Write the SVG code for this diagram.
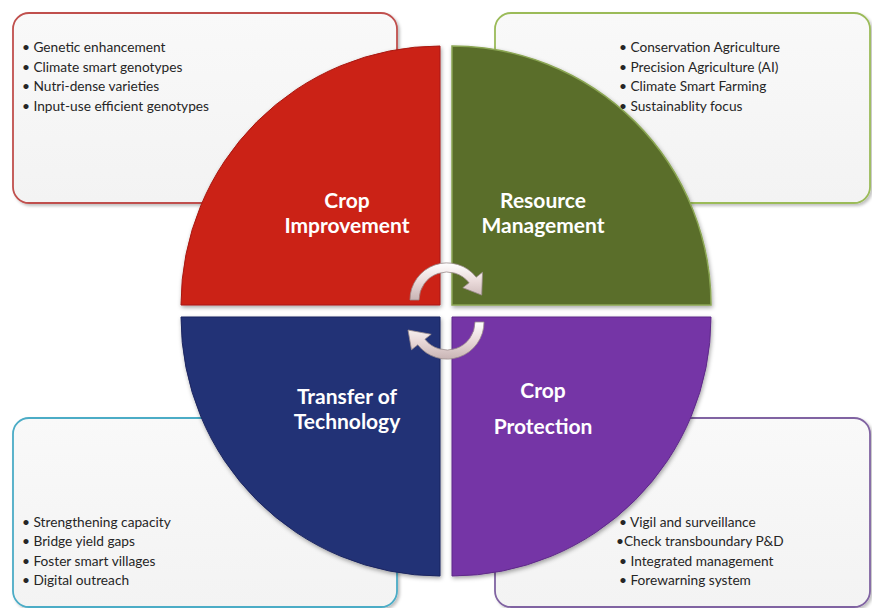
<svg xmlns="http://www.w3.org/2000/svg" width="872" height="608" viewBox="0 0 872 608">
  <style>
    .box { fill: url(#boxFill); stroke-width: 1.8; filter: url(#soft); }
    .item { font-family: Lato, "Liberation Sans", sans-serif; font-size: 13.7px; fill: #262626; }
    .head { font-family: Lato, "Liberation Sans", sans-serif; font-size: 21px; font-weight: bold; fill: #ffffff; text-anchor: middle; }
    .quad { filter: url(#drop); }
    .arrow { fill: url(#arrowFill); stroke: #9a8c8c; stroke-width: 0.8; }
  </style>
  <defs>
    <linearGradient id="boxFill" x1="0" y1="0" x2="0" y2="1">
      <stop offset="0" stop-color="#f9f9f9"/>
      <stop offset="1" stop-color="#f3f3f3"/>
    </linearGradient>
    <linearGradient id="arrowFill" x1="0" y1="0" x2="0" y2="1">
      <stop offset="0" stop-color="#ffffff"/>
      <stop offset="0.5" stop-color="#eadada"/>
      <stop offset="1" stop-color="#c8b4b4"/>
    </linearGradient>
    <filter id="soft" x="-5%" y="-5%" width="112%" height="115%">
      <feDropShadow dx="2" dy="2" stdDeviation="1.5" flood-color="#000" flood-opacity="0.25"/>
    </filter>
    <filter id="drop" x="-5%" y="-5%" width="115%" height="115%">
      <feDropShadow dx="1" dy="2" stdDeviation="2" flood-color="#000" flood-opacity="0.35"/>
    </filter>
  </defs>

  <!-- detail boxes behind the wheel -->
  <g id="box-crop-improvement">
    <rect class="box" x="13" y="13" width="384" height="190" rx="16" stroke="#c0504d"/>
    <text class="item" x="22" y="52">• Genetic enhancement</text>
    <text class="item" x="22" y="72">• Climate  smart genotypes</text>
    <text class="item" x="22" y="91">• Nutri-dense varieties</text>
    <text class="item" x="22" y="111">• Input-use efficient genotypes</text>
  </g>
  <g id="box-resource-management">
    <rect class="box" x="495" y="13" width="375" height="190" rx="16" stroke="#9bbb59"/>
    <text class="item" x="619" y="52">• Conservation Agriculture</text>
    <text class="item" x="619" y="72">• Precision Agriculture (AI)</text>
    <text class="item" x="619" y="91">• Climate  Smart Farming</text>
    <text class="item" x="619" y="111">• Sustainablity focus</text>
  </g>
  <g id="box-transfer-of-technology">
    <rect class="box" x="13" y="418" width="384" height="189" rx="16" stroke="#4bacc6"/>
    <text class="item" x="22" y="527">• Strengthening capacity</text>
    <text class="item" x="22" y="546">• Bridge yield gaps</text>
    <text class="item" x="22" y="566">• Foster smart villages</text>
    <text class="item" x="22" y="585">• Digital outreach</text>
  </g>
  <g id="box-crop-protection">
    <rect class="box" x="495" y="418" width="375" height="189" rx="16" stroke="#8064a2"/>
    <text class="item" x="619" y="527">• Vigil and surveillance</text>
    <text class="item" x="616" y="546">•Check transboundary P&amp;D</text>
    <text class="item" x="619" y="566">• Integrated management</text>
    <text class="item" x="619" y="585">• Forewarning system</text>
  </g>

  <!-- four quadrants of the wheel -->
  <g id="crop-improvement">
    <path class="quad" d="M440,305 L181,305 A259,259 0 0 1 440,46 Z" fill="#cb2117" stroke="#a81a12" stroke-width="1"/>
    <text class="head" x="347" y="208">Crop</text>
    <text class="head" x="347" y="233">Improvement</text>
  </g>
  <g id="resource-management">
    <path class="quad" d="M452,305 L452,46 A259,259 0 0 1 711,305 Z" fill="#5a6e2c" stroke="#8aa552" stroke-width="1.5"/>
    <text class="head" x="543" y="208">Resource</text>
    <text class="head" x="543" y="233">Management</text>
  </g>
  <g id="transfer-of-technology">
    <path class="quad" d="M440,317 L440,576 A259,259 0 0 1 181,317 Z" fill="#243276" stroke="#1b2660" stroke-width="1"/>
    <text class="head" x="347" y="404">Transfer of</text>
    <text class="head" x="347" y="429">Technology</text>
  </g>
  <g id="crop-protection">
    <path class="quad" d="M452,317 L711,317 A259,259 0 0 1 452,576 Z" fill="#7535a6" stroke="#5e2a88" stroke-width="1"/>
    <text class="head" x="543" y="398">Crop</text>
    <text class="head" x="543" y="434">Protection</text>
  </g>

  <!-- cycle arrows in the centre -->
  <g id="connectors">
    <path class="arrow" d="M410,300 A37,37 0 0 1 476.2,277.2 L482.5,272.3 L481.7,295.1 L462.8,287.7 L469.1,282.8 A28,28 0 0 0 419,300 Z"/>
    <path class="arrow" d="M484,322 A37,37 0 0 1 417.8,344.8 L411.5,349.7 L408,330 L431.2,334.3 L424.9,339.2 A28,28 0 0 0 475,322 Z"/>
  </g>
</svg>
